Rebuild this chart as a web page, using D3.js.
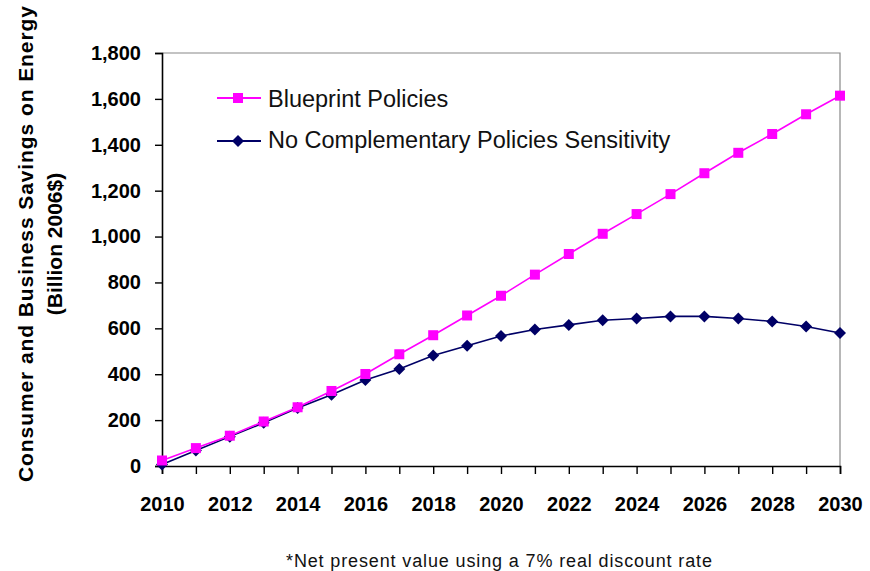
<!DOCTYPE html>
<html>
<head>
<meta charset="utf-8">
<script src="https://cdn.jsdelivr.net/npm/d3@7"></script>
<style>
  html, body { margin: 0; padding: 0; background: #fff; }
  svg { display: block; font-family: Arial, "Liberation Sans", sans-serif; }
</style>
</head>
<body>
<svg id="chart" width="870" height="571"></svg>
<script>
// Years on the horizontal axis
const years = d3.range(2010, 2031);
// Cumulative savings, billion 2006$
const blueprint = [24, 78, 132, 194, 256, 327, 401, 487, 570, 656, 742, 834, 924, 1012, 1098, 1185, 1276, 1365, 1447, 1533, 1614];
const noComplementary = [7, 68, 128, 188, 253, 311, 375, 423, 482, 524, 567, 595, 615, 635, 643, 652, 652, 643, 630, 608, 580];
const yTicks = [0, 200, 400, 600, 800, 1000, 1200, 1400, 1600, 1800];
const xTicks = d3.range(2010, 2031, 2);
const seriesNames = ["Blueprint Policies", "No Complementary Policies Sensitivity"];

const svg = d3.select("#chart");
const m = { left: 162, right: 840, top: 53, bottom: 466 };

const x = d3.scaleLinear().domain([2010, 2030]).range([m.left, m.right]);
const y = d3.scaleLinear().domain([0, 1800]).range([m.bottom, m.top]);

// Plot frame (top and right edges)
svg.append("path")
  .attr("d", `M${m.left},${m.top}H${m.right}V${m.bottom}`)
  .attr("fill", "none").attr("stroke", "#888").attr("stroke-width", 1.2);

// Y axis
const yAxis = svg.append("g")
  .attr("transform", `translate(${m.left},0)`)
  .call(d3.axisLeft(y).tickValues(yTicks).tickSize(7).tickPadding(14)
    .tickFormat(d3.format(",")));
yAxis.select(".domain").attr("stroke", "#000").attr("stroke-width", 1.6);
yAxis.selectAll(".tick line").attr("stroke", "#000").attr("stroke-width", 1.4);
yAxis.selectAll("text").attr("font-size", 20).attr("font-weight", "bold")
  .attr("fill", "#000").attr("font-family", "Arial, 'Liberation Sans', sans-serif");

// X axis
const xAxis = svg.append("g")
  .attr("transform", `translate(0,${m.bottom})`)
  .call(d3.axisBottom(x).tickValues(years).tickSize(8).tickPadding(23)
    .tickFormat(d => xTicks.includes(d) ? String(d) : ""));
xAxis.select(".domain").attr("stroke", "#000").attr("stroke-width", 1.6);
xAxis.selectAll(".tick line").attr("stroke", "#000").attr("stroke-width", 1.4);
xAxis.selectAll("text").attr("font-size", 20).attr("font-weight", "bold")
  .attr("fill", "#000").attr("font-family", "Arial, 'Liberation Sans', sans-serif");

// Y axis title, two lines
svg.append("text")
  .attr("transform", `translate(33,244) rotate(-90)`)
  .attr("text-anchor", "middle")
  .attr("font-size", 21).attr("font-weight", "bold").attr("fill", "#000")
  .attr("textLength", 476)
  .text("Consumer and Business Savings on Energy");
svg.append("text")
  .attr("transform", `translate(62,244) rotate(-90)`)
  .attr("text-anchor", "middle")
  .attr("font-size", 21).attr("font-weight", "bold").attr("fill", "#000")
  .text("(Billion 2006$)");

const line = d3.line().x((d, i) => x(years[i])).y(d => y(d));

const pink = "#ff00ff", navy = "#000066";
// Diamond marker: square rotated by 45 degrees
const diamondPath = "M0,-6L6,0L0,6L-6,0Z";

// No Complementary Policies series
svg.append("path").datum(noComplementary)
  .attr("d", line).attr("fill", "none").attr("stroke", navy).attr("stroke-width", 1.6);
svg.append("g").selectAll("path").data(noComplementary).join("path")
  .attr("d", diamondPath)
  .attr("transform", (d, i) => `translate(${x(years[i])},${y(d)})`)
  .attr("fill", navy);

// Blueprint series
svg.append("path").datum(blueprint)
  .attr("d", line).attr("fill", "none").attr("stroke", pink).attr("stroke-width", 1.6);
svg.append("g").selectAll("rect").data(blueprint).join("rect")
  .attr("x", (d, i) => x(years[i]) - 5)
  .attr("y", d => y(d) - 5)
  .attr("width", 10).attr("height", 10)
  .attr("fill", pink);

// Legend
const legend = svg.append("g");
const legendItems = [
  { name: seriesNames[0], color: pink, shape: "square", y: 98, base: 107 },
  { name: seriesNames[1], color: navy, shape: "diamond", y: 141, base: 148 }
];
legendItems.forEach(it => {
  legend.append("line").attr("x1", 217).attr("x2", 261).attr("y1", it.y).attr("y2", it.y)
    .attr("stroke", it.color).attr("stroke-width", 1.8);
  if (it.shape === "square") {
    legend.append("rect").attr("x", 238 - 5).attr("y", it.y - 5)
      .attr("width", 10).attr("height", 10).attr("fill", it.color);
  } else {
    legend.append("path").attr("d", diamondPath)
      .attr("transform", `translate(238,${it.y})`).attr("fill", it.color);
  }
  legend.append("text").attr("x", 268).attr("y", it.base)
    .attr("font-size", 23.5).attr("fill", "#111").text(it.name);
});

// Footnote
svg.append("text")
  .attr("x", 499).attr("y", 567).attr("text-anchor", "middle")
  .attr("font-size", 18).attr("fill", "#111")
  .attr("textLength", 426)
  .text("*Net present value using a 7% real discount rate");
</script>
</body>
</html>
